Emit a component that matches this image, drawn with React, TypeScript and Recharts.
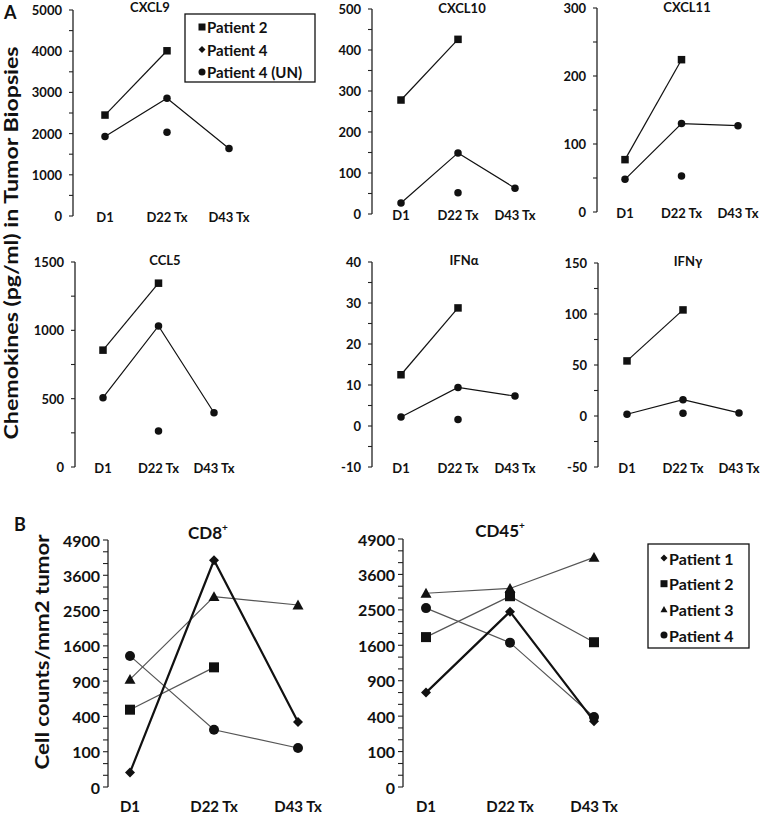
import React from "react";
import { Line, LineChart, XAxis, YAxis } from "recharts";

const FONT = "Lato, 'Open Sans', sans-serif";
const INK = "#111";

const days = ["D1", "D22 Tx", "D43 Tx"];

// Panel A: chemokines (pg/ml)
const cxcl9P2 = [2450, 4010, null];
const cxcl9P4 = [1930, 2860, 1640];
const cxcl9Un = [null, 2030, null];

const cxcl10P2 = [278, 426, null];
const cxcl10P4 = [27, 149, 63];
const cxcl10Un = [null, 52, null];

const cxcl11P2 = [77, 224, null];
const cxcl11P4 = [48, 130, 127];
const cxcl11Un = [null, 53, null];

const ccl5P2 = [855, 1345, null];
const ccl5P4 = [507, 1032, 397];
const ccl5Un = [null, 263, null];

const ifnaP2 = [12.5, 28.8, null];
const ifnaP4 = [2.2, 9.4, 7.3];
const ifnaUn = [null, 1.6, null];

const ifngP2 = [54, 104, null];
const ifngP4 = [1.7, 16, 3];
const ifngUn = [null, 2.6, null];

// Panel B: cell counts / mm2 tumor
const cd8P1 = [17, 4130, 340];
const cd8P2 = [480, 1150, null];
const cd8P3 = [930, 2910, 2660];
const cd8P4 = [1380, 263, 122];

const cd45P1 = [710, 2450, 345];
const cd45P2 = [1790, 2900, 1670];
const cd45P3 = [2990, 3140, 4200];
const cd45P4 = [2550, 1660, 390];

// axis ticks (all ticks, then the labelled ones)
const cxcl9Ticks = [0, 500, 1000, 1500, 2000, 2500, 3000, 3500, 4000, 4500, 5000];
const cxcl9Major = [0, 1000, 2000, 3000, 4000, 5000];
const cxcl10Ticks = [0, 50, 100, 150, 200, 250, 300, 350, 400, 450, 500];
const cxcl10Major = [0, 100, 200, 300, 400, 500];
const cxcl11Ticks = [0, 50, 100, 150, 200, 250, 300];
const cxcl11Major = [0, 100, 200, 300];
const ccl5Ticks = [0, 250, 500, 750, 1000, 1250, 1500];
const ccl5Major = [0, 500, 1000, 1500];
const ifnaTicks = [-10, -5, 0, 5, 10, 15, 20, 25, 30, 35, 40];
const ifnaMajor = [-10, 0, 10, 20, 30, 40];
const ifngTicks = [-50, -25, 0, 25, 50, 75, 100, 125, 150];
const ifngMajor = [-50, 0, 50, 100, 150];
const cellTicks = [0, 11, 44, 100, 178, 278, 400, 544, 711, 900, 1111, 1344, 1600, 1878, 2178, 2500, 2844, 3211, 3600, 4011, 4444, 4900];
const cellMajor = [0, 100, 400, 900, 1600, 2500, 3600, 4900];

const legendA = [
  { label: "Patient 2", kind: "square" },
  { label: "Patient 4", kind: "diamond" },
  { label: "Patient 4 (UN)", kind: "circle" },
];
const legendB = [
  { label: "Patient 1", kind: "diamond" },
  { label: "Patient 2", kind: "square" },
  { label: "Patient 3", kind: "triangle" },
  { label: "Patient 4", kind: "circle" },
];

const toRowsA = (p2, p4, un) => days.map((d, i) => ({ day: d, p2: p2[i], p4: p4[i], un: un[i] }));
const toRowsB = (p1, p2, p3, p4) =>
  days.map((d, i) => ({ day: d, p1: p1[i], p2: p2[i], p3: p3[i], p4: p4[i] }));

function Marker({ kind, cx, cy, size }) {
  const h = size / 2;
  if (kind === "square") return <rect x={cx - h} y={cy - h} width={size} height={size} fill={INK} />;
  if (kind === "diamond")
    return <polygon points={`${cx},${cy - h} ${cx + h},${cy} ${cx},${cy + h} ${cx - h},${cy}`} fill={INK} />;
  if (kind === "triangle")
    return <polygon points={`${cx},${cy - h} ${cx + h},${cy + h * 0.8} ${cx - h},${cy + h * 0.8}`} fill={INK} />;
  return <circle cx={cx} cy={cy} r={h} fill={INK} />;
}

const dotOf = (kind, size) => (props) => {
  const { cx, cy, value, index } = props;
  if (cx == null || cy == null || value == null) return <g key={`e${index}`} />;
  return <Marker key={`m${index}`} kind={kind} cx={cx} cy={cy} size={size} />;
};

const seriesA = [
  { key: "p2", kind: "square", size: 7.5, stroke: INK, width: 1.2 },
  { key: "p4", kind: "circle", size: 7.5, stroke: INK, width: 1.2 },
  { key: "un", kind: "circle", size: 7.5, stroke: "none", width: 0 },
];
const seriesB = [
  { key: "p2", kind: "square", size: 10, stroke: "#555", width: 1.2 },
  { key: "p3", kind: "triangle", size: 11, stroke: "#555", width: 1.2 },
  { key: "p4", kind: "circle", size: 10, stroke: "#555", width: 1.2 },
  { key: "p1", kind: "diamond", size: 10, stroke: INK, width: 2.2 },
];

function Panel({ x, top, bottom, firstX, step, padR, data, domain, ticks, major, scale, series, tickFont, xFont, xGap, xh, yw, tickSize, tickMargin }) {
  const mt = 10;
  const padL = firstX - x;
  const width = yw + padL + 2 * step + padR + 2;
  const height = mt + (bottom - top) + xh;
  return (
    <div style={{ position: "absolute", left: x - yw, top: top - mt }}>
      <LineChart width={width} height={height} data={data} margin={{ top: mt, right: 2, bottom: 0, left: 0 }}>
        <XAxis
          dataKey="day"
          scale="point"
          padding={{ left: padL, right: padR }}
          axisLine={false}
          tickLine={false}
          tickSize={0}
          tickMargin={0}
          height={xh}
          interval={0}
          tick={(p) => (
            <text x={p.x} y={p.y + xGap} textAnchor="middle" dominantBaseline="central" fontFamily={FONT} fontWeight={700} fontSize={xFont} fill={INK}>
              {p.payload.value}
            </text>
          )}
        />
        <YAxis
          type="number"
          scale={scale}
          domain={domain}
          ticks={ticks}
          interval={0}
          width={yw}
          tickSize={tickSize}
          tickMargin={tickMargin}
          axisLine={{ stroke: "#222", strokeWidth: 1.3 }}
          tickLine={{ stroke: "#222", strokeWidth: 1.1 }}
          tick={(p) =>
            major.includes(p.payload.value) ? (
              <text x={p.x} y={p.y} textAnchor="end" dominantBaseline="central" fontFamily={FONT} fontWeight={700} fontSize={tickFont} fill={INK}>
                {p.payload.value}
              </text>
            ) : (
              <g />
            )
          }
        />
        {series.map((s) => (
          <Line
            key={s.key}
            dataKey={s.key}
            type="linear"
            stroke={s.stroke}
            strokeWidth={s.width}
            dot={dotOf(s.kind, s.size)}
            activeDot={false}
            isAnimationActive={false}
          />
        ))}
      </LineChart>
    </div>
  );
}

const aCommon = { scale: "linear", series: seriesA, tickFont: 13, xFont: 13, xGap: 1, xh: 30, yw: 60, tickSize: 4, tickMargin: 7, padR: 20 };
const bCommon = { scale: "sqrt", series: seriesB, tickFont: 16, xFont: 15, xGap: 19, xh: 27, yw: 70, tickSize: 5, tickMargin: 3, padR: 32, domain: [0, 4900], ticks: cellTicks, major: cellMajor };

const txt = { fontFamily: FONT, fontWeight: 700, fill: INK };

export default function App() {
  return (
    <div style={{ position: "absolute", left: 0, top: 0, width: 761, height: 814, background: "#fff", overflow: "hidden" }}>
      <Panel {...aCommon} x={73} top={10} bottom={216} firstX={105} step={62} data={toRowsA(cxcl9P2, cxcl9P4, cxcl9Un)} domain={[0, 5000]} ticks={cxcl9Ticks} major={cxcl9Major} />
      <Panel {...aCommon} x={372} top={9} bottom={214} firstX={401} step={57} data={toRowsA(cxcl10P2, cxcl10P4, cxcl10Un)} domain={[0, 500]} ticks={cxcl10Ticks} major={cxcl10Major} />
      <Panel {...aCommon} x={597} top={8} bottom={212} firstX={625} step={56.5} data={toRowsA(cxcl11P2, cxcl11P4, cxcl11Un)} domain={[0, 300]} ticks={cxcl11Ticks} major={cxcl11Major} />
      <Panel {...aCommon} x={75} top={262} bottom={467} firstX={103} step={55.5} data={toRowsA(ccl5P2, ccl5P4, ccl5Un)} domain={[0, 1500]} ticks={ccl5Ticks} major={ccl5Major} />
      <Panel {...aCommon} x={372} top={262} bottom={467} firstX={401} step={57} data={toRowsA(ifnaP2, ifnaP4, ifnaUn)} domain={[-10, 40]} ticks={ifnaTicks} major={ifnaMajor} />
      <Panel {...aCommon} x={598} top={263} bottom={467} firstX={627} step={56} data={toRowsA(ifngP2, ifngP4, ifngUn)} domain={[-50, 150]} ticks={ifngTicks} major={ifngMajor} />

      <Panel {...bCommon} x={108} top={540} bottom={787} firstX={130} step={84} data={toRowsB(cd8P1, cd8P2, cd8P3, cd8P4)} />
      <Panel {...bCommon} x={403} top={539} bottom={787} firstX={426} step={84} data={toRowsB(cd45P1, cd45P2, cd45P3, cd45P4)} />

      <svg width={761} height={814} style={{ position: "absolute", left: 0, top: 0, pointerEvents: "none" }}>
        <text {...txt} x={4} y={12} fontSize={18} dominantBaseline="central">A</text>
        <text {...txt} x={14} y={524} fontSize={18} dominantBaseline="central">B</text>

        <text {...txt} x={11} y={243} fontSize={18} textAnchor="middle" dominantBaseline="central" textLength={393} lengthAdjust="spacingAndGlyphs" transform="rotate(-90 11 243)">
          Chemokines (pg/ml) in Tumor Biopsies
        </text>
        <text {...txt} x={42} y={652} fontSize={18} textAnchor="middle" dominantBaseline="central" textLength={235} lengthAdjust="spacingAndGlyphs" transform="rotate(-90 42 652)">
          Cell counts/mm2 tumor
        </text>

        <text {...txt} x={150} y={7} fontSize={13} textAnchor="middle" dominantBaseline="central">CXCL9</text>
        <text {...txt} x={462} y={8} fontSize={13} textAnchor="middle" dominantBaseline="central">CXCL10</text>
        <text {...txt} x={687} y={7} fontSize={13} textAnchor="middle" dominantBaseline="central">CXCL11</text>
        <text {...txt} x={165} y={260} fontSize={13} textAnchor="middle" dominantBaseline="central">CCL5</text>
        <text {...txt} x={464} y={260} fontSize={13} textAnchor="middle" dominantBaseline="central">IFNα</text>
        <text {...txt} x={688} y={261} fontSize={13} textAnchor="middle" dominantBaseline="central">IFNγ</text>

        <text {...txt} x={208} y={532} fontSize={17} textAnchor="middle" dominantBaseline="central">
          CD8<tspan fontSize={10} dy={-5}>+</tspan>
        </text>
        <text {...txt} x={500} y={530} fontSize={17} textAnchor="middle" dominantBaseline="central">
          CD45<tspan fontSize={10} dy={-5}>+</tspan>
        </text>

        <rect x={185} y={14} width={130} height={68} fill="#fff" stroke={INK} strokeWidth={1.3} />
        {legendA.map((l, i) => (
          <g key={l.label}>
            <Marker kind={l.kind} cx={202} cy={27 + i * 22.5} size={7} />
            <text {...txt} x={207} y={27 + i * 22.5} fontSize={15} dominantBaseline="central">{l.label}</text>
          </g>
        ))}

        <rect x={648} y={544} width={101} height={104} fill="#fff" stroke={INK} strokeWidth={1.3} />
        {legendB.map((l, i) => (
          <g key={l.label}>
            <Marker kind={l.kind} cx={664} cy={558 + i * 25.7} size={7} />
            <text {...txt} x={669} y={558 + i * 25.7} fontSize={16} dominantBaseline="central">{l.label}</text>
          </g>
        ))}
      </svg>
    </div>
  );
}
